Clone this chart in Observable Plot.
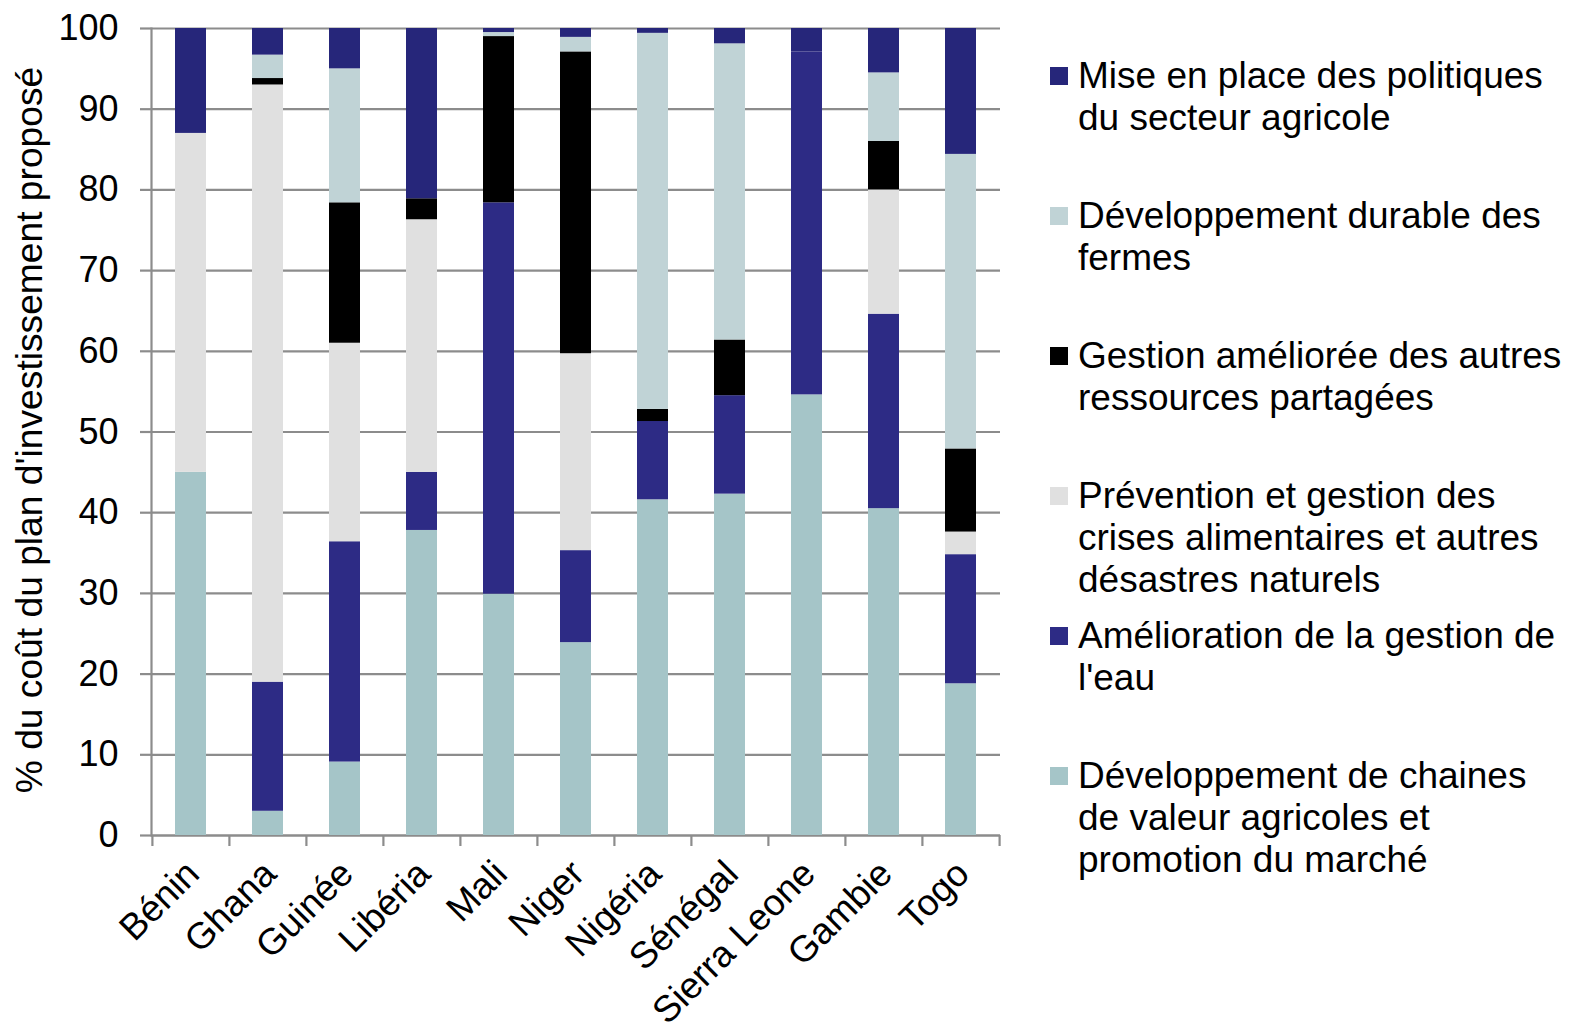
<!DOCTYPE html>
<html>
<head>
<meta charset="utf-8">
<script src="https://cdn.jsdelivr.net/npm/d3@7"></script>
<script src="https://cdn.jsdelivr.net/npm/@observablehq/plot@0.6"></script>
<style>
  html, body { margin: 0; padding: 0; background: #fff; }
  body { font-family: "Liberation Sans", Arial, sans-serif; }
  #wrap { position: relative; width: 1570px; height: 1030px; overflow: hidden; }
  #legend { position: absolute; left: 0; top: 0; width: 1570px; height: 1030px; pointer-events: none; }
  .item { position: absolute; left: 1078px; font-size: 37px; line-height: 42px; color: #000; white-space: nowrap; }
  .sw { position: absolute; left: -28px; top: 12px; width: 18px; height: 18px; }
</style>
</head>
<body>
<div id="wrap"><div id="chart"></div><div id="legend"></div></div>
<script>
// ---- Data ----
const countries = ["Bénin","Ghana","Guinée","Libéria","Mali","Niger","Nigéria","Sénégal","Sierra Leone","Gambie","Togo"];
const seriesNames = [
  "Développement de chaines de valeur agricoles et promotion du marché",
  "Amélioration de la gestion de l'eau",
  "Prévention et gestion des crises alimentaires et autres désastres naturels",
  "Gestion améliorée des autres ressources partagées",
  "Développement durable des fermes",
  "Mise en place des politiques du secteur agricole"
];
const chaines    = [45.0, 3.0,  9.1, 37.8, 29.9, 23.9, 41.6, 42.3, 54.6, 40.5, 18.8];
const eau        = [ 0.0, 16.0, 27.3, 7.2, 48.5, 11.4,  9.7, 12.2, 42.5, 24.1, 16.0];
const crises     = [42.0, 74.0, 24.6, 31.3, 0.0, 24.4,  0.0,  0.0,  0.0, 15.4,  2.8];
const ressources = [ 0.0, 0.8, 17.4,  2.6, 20.6, 37.4,  1.5,  6.9,  0.0,  6.0, 10.3];
const fermes     = [ 0.0, 2.9, 16.6,  0.0,  0.5,  1.8, 46.6, 36.7,  0.0,  8.5, 36.5];
const politiques = [13.0, 3.3,  5.0, 21.1,  0.5,  1.1,  0.6,  1.9,  2.9,  5.5, 15.6];
const yTicks = [0,10,20,30,40,50,60,70,80,90,100];
const yLabel = "% du coût du plan d'investissement proposé";
const colors = ["#A5C5C8", "#2D2B85", "#E0E0E0", "#000000", "#C0D3D6", "#26267A"];
const legendLines = [
  ["Mise en place des politiques", "du secteur agricole"],
  ["Développement durable des", "fermes"],
  ["Gestion améliorée des autres", "ressources partagées"],
  ["Prévention et gestion des", "crises alimentaires et autres", "désastres naturels"],
  ["Amélioration de la gestion de", "l'eau"],
  ["Développement de chaines", "de valeur agricoles et", "promotion du marché"]
];
const legendSeries = [5, 4, 3, 2, 1, 0];

// ---- Build table ----
const seriesValues = [chaines, eau, crises, ressources, fermes, politiques];
const rows = [];
countries.forEach((c, i) => {
  seriesNames.forEach((s, j) => rows.push({country: c, series: s, value: seriesValues[j][i]}));
});

const W = 1570, H = 1030, mL = 151, mR = 570, mT = 28, mB = 195;
const step = (W - mL - mR) / countries.length;
const grey = "#8C8C8C";

const chart = Plot.plot({
  width: W, height: H,
  marginLeft: mL, marginRight: mR, marginTop: mT, marginBottom: mB,
  style: {fontFamily: "'Liberation Sans', Arial, sans-serif", color: "#000", background: "#fff", overflow: "visible"},
  x: {type: "band", domain: countries, paddingInner: 0.6, paddingOuter: 0.3, axis: null},
  y: {domain: [0, 100], axis: null},
  color: {domain: seriesNames, range: colors},
  marks: [
    Plot.gridY(yTicks, {stroke: grey, strokeOpacity: 1, strokeWidth: 2.2}),
    Plot.frame({anchor: "left", stroke: grey, strokeWidth: 2.2}),
    Plot.ruleY([0], {stroke: grey, strokeWidth: 2.2}),
    Plot.axisY(yTicks, {tickSize: 11, tickPadding: 22, fontSize: 36, stroke: grey, strokeWidth: 2.2, label: null, fill: "#000"}),
    Plot.axisX(countries, {tickSize: 11, tickFormat: () => "", dx: -step / 2, stroke: grey, strokeWidth: 2.2, label: null}),
    Plot.axisX([countries[countries.length - 1]], {tickSize: 11, tickFormat: () => "", dx: step / 2, stroke: grey, strokeWidth: 2.2, label: null}),
    Plot.barY(rows, {x: "country", y: "value", fill: "series", order: seriesNames}),
    Plot.text(countries, {x: d => d, frameAnchor: "bottom", rotate: -45, textAnchor: "end", lineAnchor: "middle", dx: 2, dy: 32, fontSize: 37, fill: "#000"}),
    Plot.text([yLabel], {frameAnchor: "left", rotate: -90, textAnchor: "middle", lineAnchor: "bottom", dx: -110, dy: -2, fontSize: 37.2, fill: "#000"})
  ]
});
document.getElementById("chart").appendChild(chart);

// ---- Legend ----
const legend = document.getElementById("legend");
const tops = [55, 195, 335, 475, 615, 755];
legendLines.forEach((lines, k) => {
  const div = document.createElement("div");
  div.className = "item";
  div.style.top = tops[k] + "px";
  const sw = document.createElement("div");
  sw.className = "sw";
  sw.style.background = colors[legendSeries[k]];
  div.appendChild(sw);
  lines.forEach((t, i) => {
    if (i) div.appendChild(document.createElement("br"));
    div.appendChild(document.createTextNode(t));
  });
  legend.appendChild(div);
});
</script>
</body>
</html>
